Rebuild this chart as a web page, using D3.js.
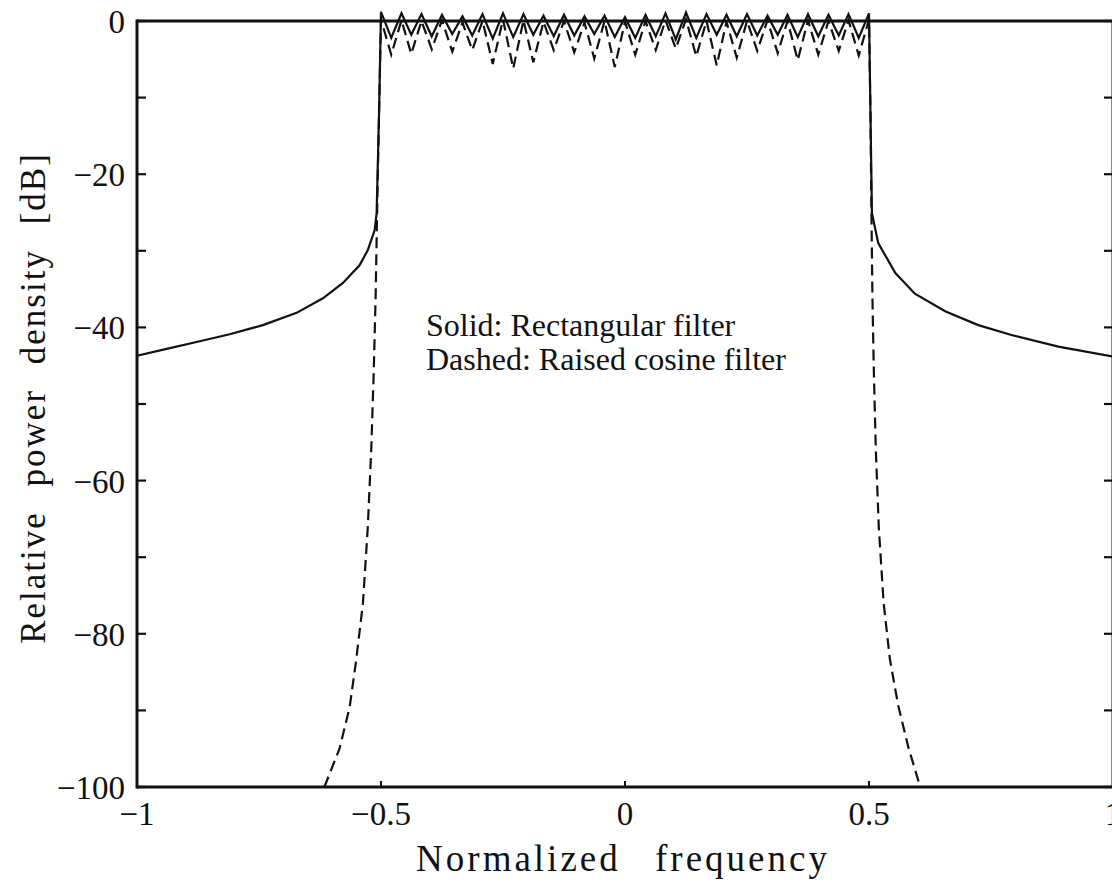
<!DOCTYPE html>
<html>
<head>
<meta charset="utf-8">
<script src="https://cdn.jsdelivr.net/npm/d3@7"></script>
<style>
  body { margin: 0; background: #fff; }
  text { font-family: "Liberation Serif", "Times New Roman", serif; fill: #111; }
</style>
</head>
<body>
<div id="chart"></div>
<script>
// frame size
var width = 1112;
var height = 882;

// axis ticks
var xTickValues = [-1, -0.5, 0, 0.5, 1];
var xTickLabels = ["−1", "−0.5", "0", "0.5", "1"];
var yTickValues = [0, -20, -40, -60, -80, -100];
var yTickLabels = ["0", "−20", "−40", "−60", "−80", "−100"];
var yMinorTicks = [-10, -30, -50, -70, -90];

// solid curve (rectangular filter): left skirt, passband, right skirt
var solidLeftFreq = [-1, -0.946, -0.878, -0.810, -0.742, -0.673, -0.619, -0.578, -0.544, -0.527, -0.513, -0.509, -0.504];
var solidLeftDb   = [-43.7, -42.9, -41.9, -40.9, -39.7, -38.1, -36.2, -34.2, -31.9, -29.9, -27.3, -25.1, -12];

// passband: peaks and dips alternate
var passFreq = [-0.5, -0.479, -0.458, -0.438, -0.417, -0.396, -0.375, -0.354, -0.333, -0.313,
                -0.292, -0.271, -0.25, -0.229, -0.208, -0.188, -0.167, -0.146, -0.125, -0.104,
                -0.083, -0.063, -0.042, -0.021, 0, 0.021, 0.042, 0.063, 0.083, 0.104,
                0.125, 0.146, 0.167, 0.188, 0.208, 0.229, 0.25, 0.271, 0.292, 0.313,
                0.333, 0.354, 0.375, 0.396, 0.417, 0.438, 0.458, 0.479, 0.5];
var solidPassDb = [1.2, -2.2, 1.0, -1.8, 0.9, -2.0, 0.8, -1.7, 0.6, -1.9,
                   0.9, -2.3, 1.0, -2.1, 0.9, -1.8, 0.7, -2.0, 0.8, -1.9,
                   0.6, -1.7, 0.7, -2.1, 0.5, -2.2, 0.8, -2.0, 1.0, -2.4,
                   1.1, -2.2, 0.9, -1.8, 0.8, -2.0, 0.9, -1.9, 0.7, -1.8,
                   0.8, -2.1, 0.9, -2.0, 0.8, -1.9, 0.9, -2.2, 1.0];
var dashPassDb  = [0.2, -4.4, 0.1, -4.3, 0.0, -3.7, 0.1, -4.0, -0.2, -3.8,
                   0.0, -5.6, 0.2, -6.2, 0.1, -5.4, -0.1, -3.8, 0.0, -4.1,
                   -0.2, -4.9, 0.0, -6.0, -0.1, -4.4, 0.0, -3.8, 0.1, -3.6,
                   0.2, -4.6, 0.0, -5.8, -0.1, -4.8, 0.0, -3.9, 0.1, -4.2,
                   0.0, -5.1, 0.1, -4.4, 0.0, -3.9, 0.1, -4.5, 0.2];

var solidRightFreq = [0.503, 0.506, 0.519, 0.554, 0.594, 0.656, 0.724, 0.792, 0.888, 1];
var solidRightDb   = [-12, -25.1, -29, -32.9, -35.6, -37.9, -39.7, -41, -42.5, -43.8];

// dashed curve (raised cosine filter) skirts
var dashLeftFreq = [-0.616, -0.585, -0.564, -0.551, -0.537, -0.527, -0.520, -0.515, -0.511, -0.508, -0.504];
var dashLeftDb   = [-100, -95, -89.5, -83.5, -76, -66, -56, -46, -36, -25, -12];
var dashRightFreq = [0.503, 0.505, 0.507, 0.510, 0.514, 0.520, 0.530, 0.543, 0.560, 0.581, 0.605];
var dashRightDb   = [-12, -25, -36, -46, -56, -66, -76, -83.4, -89.4, -94.9, -100];

var legendLines = ["Solid: Rectangular filter", "Dashed: Raised cosine filter"];

function zipPoints(fs, ds) {
  var out = [];
  for (var i = 0; i < fs.length; i++) out.push([fs[i], ds[i]]);
  return out;
}

var solidData = zipPoints(solidLeftFreq, solidLeftDb)
  .concat(zipPoints(passFreq, solidPassDb))
  .concat(zipPoints(solidRightFreq, solidRightDb));
var dashData = zipPoints(dashLeftFreq, dashLeftDb)
  .concat(zipPoints(passFreq, dashPassDb))
  .concat(zipPoints(dashRightFreq, dashRightDb));

var x = d3.scaleLinear().domain([-1, 1]).range([137, 1113]);
var y = d3.scaleLinear().domain([-100, 0]).range([787, 21]);

var svg = d3.select("#chart").append("svg")
  .attr("width", width)
  .attr("height", height);

var line = d3.line()
  .x(function(d) { return x(d[0]); })
  .y(function(d) { return y(d[1]); });

svg.append("path")
  .datum(dashData)
  .attr("d", line)
  .style("fill", "none")
  .style("stroke", "#111")
  .style("stroke-width", 2.2)
  .style("stroke-dasharray", "11,6");

svg.append("path")
  .datum(solidData)
  .attr("d", line)
  .style("fill", "none")
  .style("stroke", "#111")
  .style("stroke-width", 2.2);

// frame: thick left, top, bottom, right edge half cut by the window
var frame = svg.append("g").style("stroke", "#111").style("fill", "none");
frame.append("line").attr("x1", x(-1)).attr("x2", x(-1)).attr("y1", y(0) - 1.5).attr("y2", y(-100) + 1.5).style("stroke-width", 3);
frame.append("line").attr("x1", x(-1)).attr("x2", x(1)).attr("y1", y(0)).attr("y2", y(0)).style("stroke-width", 3);
frame.append("line").attr("x1", x(-1)).attr("x2", x(1)).attr("y1", y(-100)).attr("y2", y(-100)).style("stroke-width", 3);
frame.append("line").attr("x1", x(1)).attr("x2", x(1)).attr("y1", y(0)).attr("y2", y(-100)).style("stroke-width", 3);

// y ticks, inward on both sides
var allY = yTickValues.concat(yMinorTicks);
frame.selectAll(".ytl").data(allY).enter().append("line")
  .attr("x1", x(-1)).attr("x2", x(-1) + 9)
  .attr("y1", function(d) { return y(d); }).attr("y2", function(d) { return y(d); })
  .style("stroke-width", 2.2);
frame.selectAll(".ytr").data(allY).enter().append("line")
  .attr("x1", x(1)).attr("x2", x(1) - 9)
  .attr("y1", function(d) { return y(d); }).attr("y2", function(d) { return y(d); })
  .style("stroke-width", 2.2);

// x ticks, inward
frame.selectAll(".xt").data(xTickValues.slice(1, 4)).enter().append("line")
  .attr("x1", function(d) { return x(d); }).attr("x2", function(d) { return x(d); })
  .attr("y1", y(-100)).attr("y2", y(-100) - 6)
  .style("stroke-width", 2);

// tick labels
svg.selectAll(".ylab").data(yTickValues).enter().append("text")
  .attr("x", 125)
  .attr("y", function(d) { return y(d) + 12; })
  .attr("text-anchor", "end")
  .style("font-size", "33px")
  .text(function(d, i) { return yTickLabels[i]; });

svg.selectAll(".xlab").data(xTickValues).enter().append("text")
  .attr("x", function(d) { return x(d); })
  .attr("y", 825)
  .attr("text-anchor", "middle")
  .style("font-size", "33px")
  .text(function(d, i) { return xTickLabels[i]; });

// axis titles
svg.append("text")
  .attr("x", 623)
  .attr("y", 871)
  .attr("text-anchor", "middle")
  .style("font-size", "37px")
  .style("letter-spacing", "3px")
  .style("word-spacing", "22px")
  .text("Normalized frequency");

svg.append("text")
  .attr("transform", "translate(45,398) rotate(-90)")
  .attr("text-anchor", "middle")
  .style("font-size", "35px")
  .style("letter-spacing", "2px")
  .style("word-spacing", "14px")
  .text("Relative power density [dB]");

// legend note
svg.selectAll(".legend").data(legendLines).enter().append("text")
  .attr("x", 426)
  .attr("y", function(d, i) { return 336 + i * 34; })
  .style("font-size", "32px")
  .text(function(d) { return d; });
</script>
</body>
</html>
